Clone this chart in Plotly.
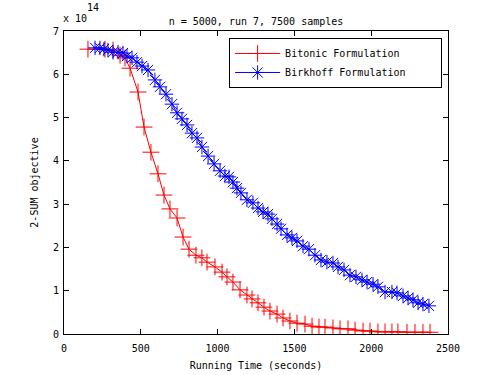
import plotly.graph_objects as go

# running time (s) and 2-SUM objective (x 1e14)
bitonic_t = [156, 267, 319, 365, 397, 430, 482, 521, 566, 612, 651, 690, 736, 775,
             814, 859, 898, 931, 983, 1029, 1061, 1100, 1146, 1191, 1224, 1263,
             1302, 1341, 1387, 1426, 1471, 1517, 1569, 1615, 1660, 1699, 1751,
             1797, 1849, 1895, 1947, 1992, 2044, 2090, 2135, 2174, 2233, 2285,
             2337, 2383]
bitonic_obj = [6.58, 6.58, 6.56, 6.44, 6.38, 6.14, 5.59, 4.78, 4.20, 3.70, 3.21,
               2.89, 2.68, 2.24, 1.96, 1.82, 1.76, 1.66, 1.55, 1.43, 1.32, 1.20,
               1.02, 0.90, 0.81, 0.72, 0.62, 0.53, 0.46, 0.37, 0.30, 0.25, 0.23,
               0.18, 0.16, 0.16, 0.14, 0.12, 0.12, 0.09, 0.07, 0.07, 0.05, 0.05,
               0.05, 0.05, 0.04, 0.04, 0.04, 0.04]

birkhoff_t = [202, 234, 260, 286, 319, 352, 384, 410, 443, 475, 508, 547, 592, 625,
              664, 703, 736, 768, 801, 833, 866, 898, 938, 977, 1016, 1048, 1074,
              1100, 1126, 1152, 1191, 1230, 1263, 1296, 1328, 1354, 1387, 1413,
              1452, 1484, 1517, 1556, 1595, 1634, 1673, 1712, 1751, 1784, 1823,
              1862, 1901, 1940, 1973, 2012, 2044, 2090, 2135, 2168, 2207, 2240,
              2272, 2305, 2337, 2376]
birkhoff_obj = [6.61, 6.61, 6.58, 6.56, 6.51, 6.51, 6.49, 6.42, 6.38, 6.28, 6.19,
                6.10, 5.87, 5.71, 5.54, 5.31, 5.11, 4.97, 4.83, 4.64, 4.53, 4.32,
                4.11, 3.93, 3.77, 3.65, 3.63, 3.51, 3.37, 3.26, 3.10, 3.03, 2.91,
                2.82, 2.77, 2.66, 2.54, 2.43, 2.29, 2.22, 2.15, 2.03, 1.96, 1.82,
                1.71, 1.66, 1.64, 1.55, 1.48, 1.36, 1.32, 1.25, 1.20, 1.15, 1.09,
                0.97, 0.97, 0.95, 0.88, 0.83, 0.79, 0.72, 0.69, 0.65]

x_ticks = [0, 500, 1000, 1500, 2000, 2500]
y_ticks = [0, 1, 2, 3, 4, 5, 6, 7]

fnt = dict(family="DejaVu Sans Mono", size=10, color="black")
pad = "\u00a0" * 5  # legend box has empty space on the right in the original

fig = go.Figure()
fig.add_trace(go.Scatter(x=bitonic_t, y=bitonic_obj, mode="lines+markers",
                         name="Bitonic Formulation" + pad,
                         line=dict(color="#ff0000", width=1),
                         marker=dict(symbol="cross-thin-open", size=12,
                                     line=dict(color="#ff0000", width=1))))
fig.add_trace(go.Scatter(x=birkhoff_t, y=birkhoff_obj, mode="lines+markers",
                         name="Birkhoff Formulation" + pad,
                         line=dict(color="#0000ff", width=1),
                         marker=dict(symbol="asterisk-open", size=12,
                                     line=dict(color="#0000ff", width=1))))

axis_common = dict(showgrid=False, zeroline=False, showline=True, mirror="ticks",
                   linecolor="black", linewidth=1, ticks="inside", ticklen=5,
                   tickcolor="black", tickfont=fnt, automargin=False)

fig.update_xaxes(range=[0, 2500], tickvals=x_ticks, ticklabelstandoff=5,
                 title=dict(text="Running Time (seconds)", font=fnt, standoff=8),
                 **axis_common)
fig.update_yaxes(range=[0, 7], tickvals=y_ticks, ticklabelstandoff=2,
                 title=dict(text="2-SUM objective", font=fnt, standoff=12),
                 **axis_common)

fig.update_layout(
    width=495, height=375,
    margin=dict(l=64, r=47, t=31, b=41),
    paper_bgcolor="white", plot_bgcolor="white",
    font=fnt,
    title=dict(text="n = 5000, run 7, 7500 samples", x=0.5, xanchor="center",
               xref="paper", y=1 - 21 / 375, yanchor="middle", font=fnt),
    legend=dict(x=0.43, y=0.977, xanchor="left", yanchor="top",
                bgcolor="white", bordercolor="black", borderwidth=1,
                font=fnt, tracegroupgap=0, itemwidth=45),
    annotations=[
        dict(text="x 10", xref="paper", yref="paper", x=0, y=1,
             xanchor="left", yanchor="bottom", showarrow=False,
             font=fnt, xshift=-3, yshift=5),
        dict(text="14", xref="paper", yref="paper", x=0, y=1,
             xanchor="left", yanchor="bottom", showarrow=False,
             font=fnt, xshift=21, yshift=16),
    ],
)

# drop the default page margin so the figure sits at the window corner
fig.write_html("out.html", config={"displayModeBar": False},
               post_script="document.body.style.margin='0';")
